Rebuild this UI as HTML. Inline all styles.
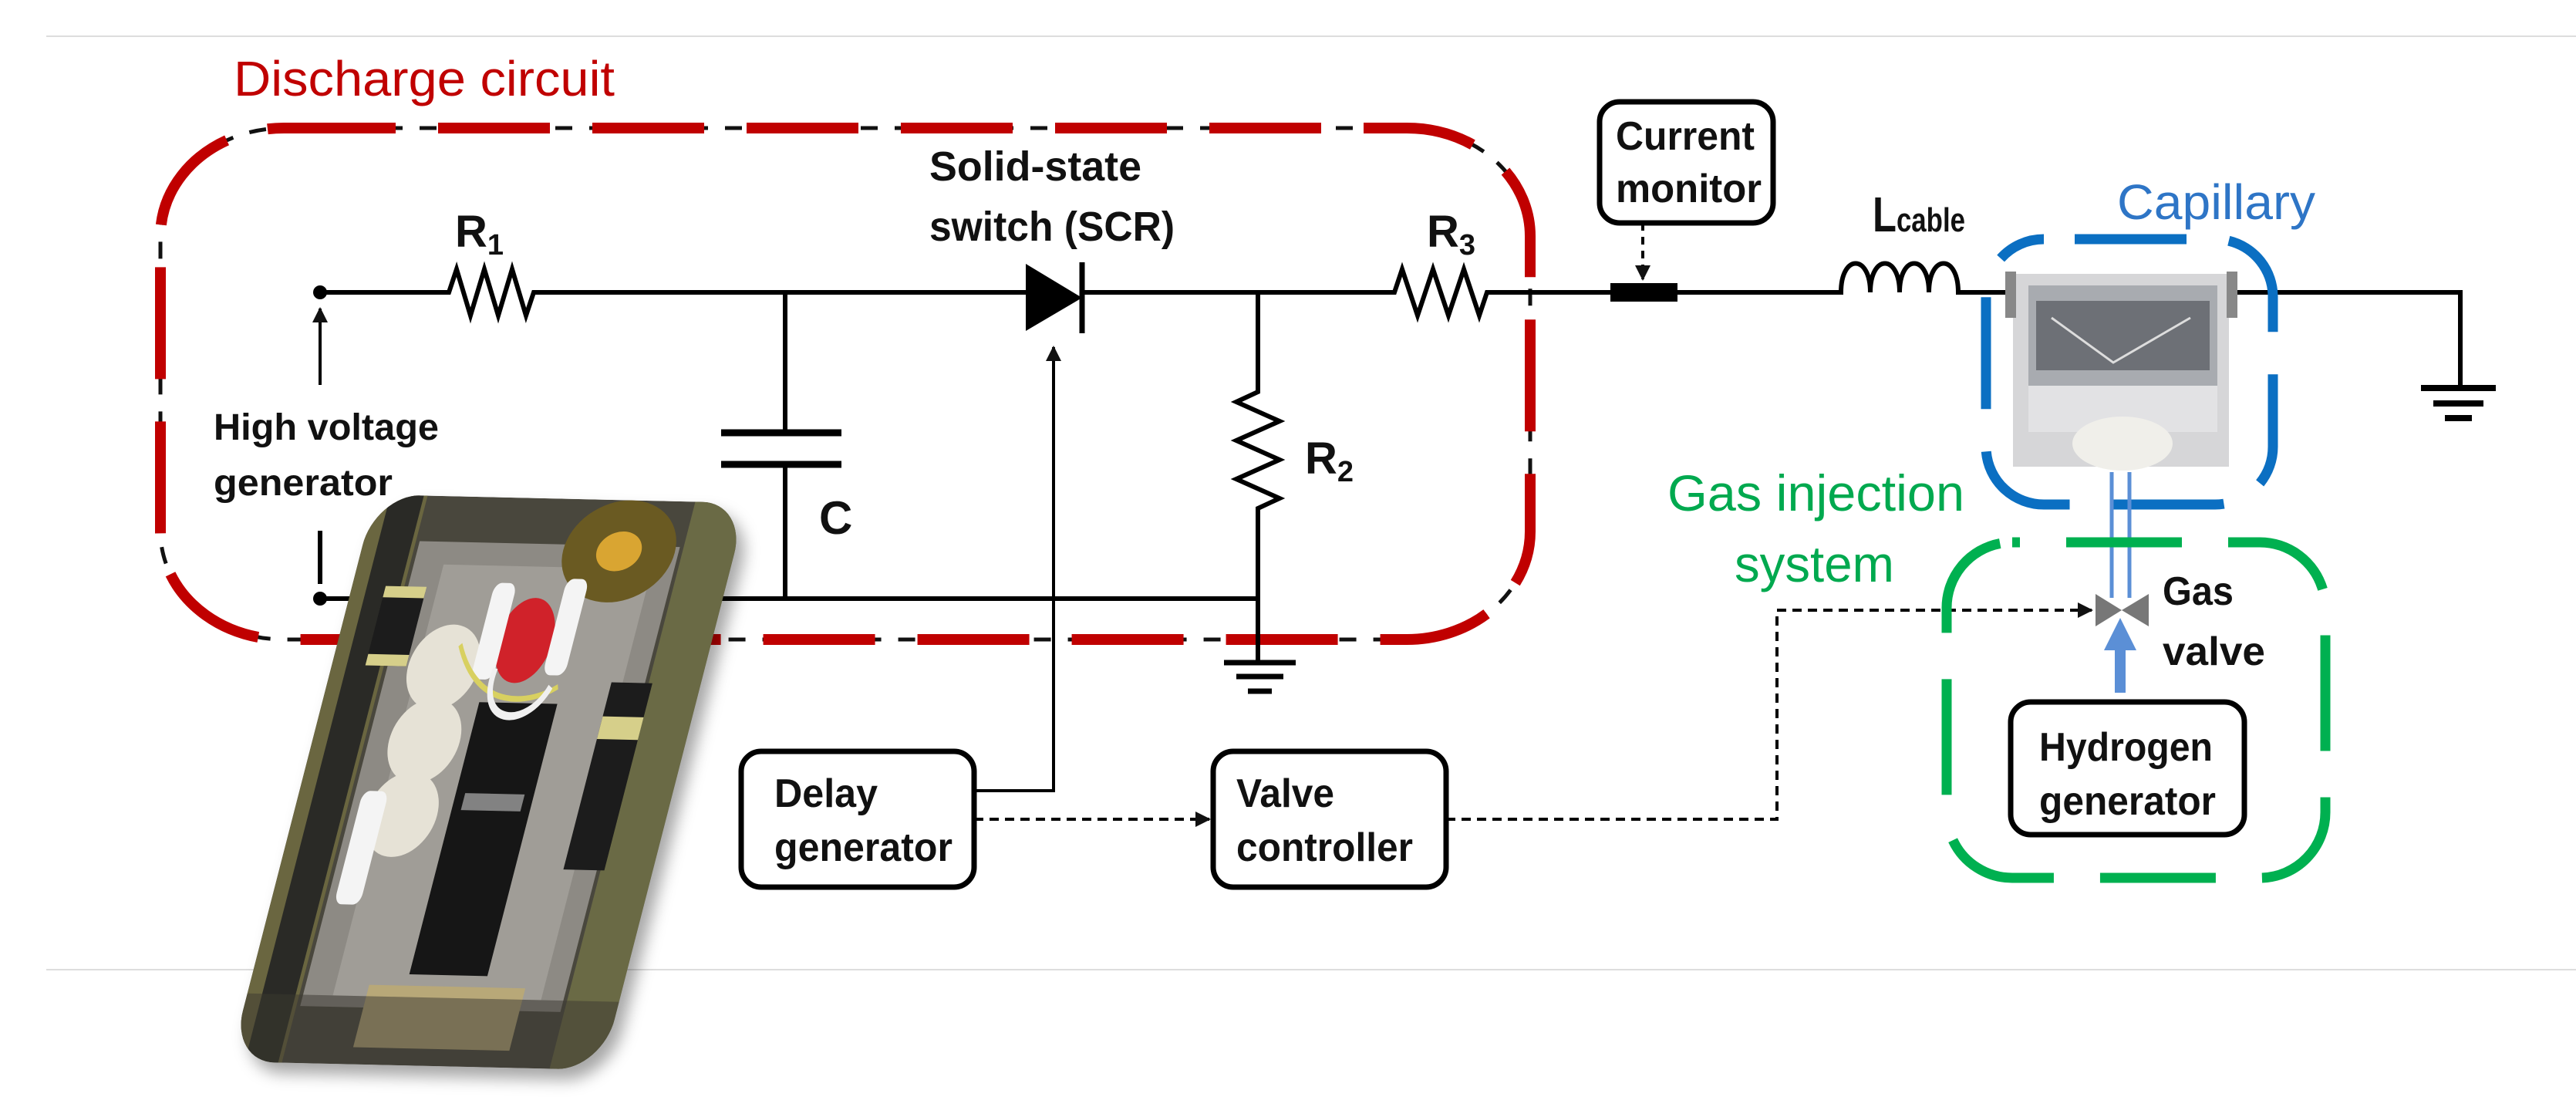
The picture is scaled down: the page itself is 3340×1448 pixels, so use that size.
<!DOCTYPE html>
<html><head><meta charset="utf-8"><style>
html,body{margin:0;padding:0;background:#fff}
svg{display:block}
text{font-family:"Liberation Sans",sans-serif}
</style></head><body>
<svg width="3340" height="1448" viewBox="0 0 3340 1448" xmlns="http://www.w3.org/2000/svg">
<defs>
<marker id="ah" viewBox="0 0 10 10" refX="9" refY="5" markerWidth="5" markerHeight="5" orient="auto"><path d="M0,0 L10,5 L0,10 z" fill="#111"/></marker>
<marker id="ahb" viewBox="0 0 10 10" refX="5" refY="5" markerWidth="3" markerHeight="3" orient="auto"><path d="M0,0 L10,5 L0,10 z" fill="#5b8fd6"/></marker>
<filter id="sh" x="-20%" y="-20%" width="140%" height="140%"><feDropShadow dx="10" dy="14" stdDeviation="10" flood-color="#000" flood-opacity="0.35"/></filter>
<clipPath id="pc"><rect x="0" y="0" width="1000" height="1000" rx="120" ry="90"/></clipPath>
</defs>

<line x1="60" y1="47" x2="3340" y2="47" stroke="#ddd" stroke-width="2"/>
<line x1="60" y1="1257" x2="3340" y2="1257" stroke="#ddd" stroke-width="2"/>

<text x="303" y="124" font-size="64" fill="#c00000" textLength="494" lengthAdjust="spacingAndGlyphs">Discharge circuit</text>

<rect x="208" y="166" width="1776" height="663" rx="160" ry="140" fill="none" stroke="#111" stroke-width="5" stroke-dasharray="22 22"/>
<rect x="208" y="166" width="1776" height="663" rx="160" ry="140" fill="none" stroke="#c00000" stroke-width="14" stroke-dasharray="145 55"/>

<g stroke="#000" stroke-width="6" fill="none">
<path d="M415,379 H582 l10,-30 l18,60 l18,-60 l18,60 l18,-60 l18,60 l10,-30 H1330"/>
<path d="M1406,379 H1808 l10,-30 l20,60 l20,-60 l20,60 l20,-60 l20,60 l10,-30 H2088"/>
<path d="M2175,379 H2387 c0,-50 38,-50 38,0 c0,-50 38,-50 38,0 c0,-50 38,-50 38,0 c0,-50 38,-50 38,0 H2600"/>
<path d="M2900,379 H3190 V503"/>
<path d="M1018,379 V561 M1018,602 V776"/>
<path d="M935,561 H1091 M935,602 H1091" stroke-width="9"/>
<path d="M1631,379 V508 l-28,13 l56,25 l-56,25 l56,25 l-56,25 l56,25 l-28,13 V859"/>
<path d="M415,776 H1631"/>
<path d="M415,688 V757"/>
<path d="M1587,859 H1680 M1603,877 H1664 M1618,896 H1649" stroke-width="7"/>
<path d="M3139,503 H3236 M3155,523 H3220 M3170,542 H3205" stroke-width="8"/>
<path d="M415,499 V400" stroke-width="4" marker-end="url(#ah)"/>
<path d="M1263,1025 H1366 V450" stroke-width="4" marker-end="url(#ah)"/>
</g>
<circle cx="415" cy="379" r="9" fill="#000"/>
<circle cx="415" cy="776" r="9" fill="#000"/>
<polygon points="1330,342 1330,429 1403,386" fill="#000"/>
<line x1="1403" y1="340" x2="1403" y2="432" stroke="#000" stroke-width="7"/>
<rect x="2088" y="367" width="87" height="24" fill="#000"/>
<line x1="2130" y1="289" x2="2130" y2="362" stroke="#000" stroke-width="4" stroke-dasharray="10 8" marker-end="url(#ah)"/>

<g stroke="#000" stroke-width="4" fill="none" stroke-dasharray="12 8">
<path d="M1263,1062 H1568" marker-end="url(#ah)"/>
<path d="M1875,1062 H2304 V791 H2712" marker-end="url(#ah)"/>
</g>

<g font-weight="bold" fill="#111" lengthAdjust="spacingAndGlyphs">
<text x="590" y="320" font-size="58">R<tspan font-size="38" dy="10">1</tspan></text>
<text x="1850" y="320" font-size="58">R<tspan font-size="38" dy="10">3</tspan></text>
<text x="1692" y="614" font-size="58">R<tspan font-size="38" dy="10">2</tspan></text>
<text x="1062" y="692" font-size="60">C</text>
<text x="1205" y="234" font-size="54" textLength="275" lengthAdjust="spacingAndGlyphs">Solid-state</text>
<text x="1205" y="312" font-size="54" textLength="318" lengthAdjust="spacingAndGlyphs">switch (SCR)</text>
<text x="277" y="570" font-size="48" textLength="292" lengthAdjust="spacingAndGlyphs">High voltage</text>
<text x="277" y="642" font-size="48" textLength="232" lengthAdjust="spacingAndGlyphs">generator</text>
<text x="2428" y="300" font-size="64" textLength="120" lengthAdjust="spacingAndGlyphs">L<tspan font-size="44">cable</tspan></text>
<text x="2804" y="784" font-size="52" textLength="92" lengthAdjust="spacingAndGlyphs">Gas</text>
<text x="2804" y="862" font-size="52" textLength="133" lengthAdjust="spacingAndGlyphs">valve</text>
</g>

<g fill="#fff" stroke="#000" stroke-width="7">
<rect x="961" y="974" width="302" height="176" rx="26"/>
<rect x="1573" y="974" width="302" height="176" rx="26"/>
<rect x="2074" y="132" width="225" height="157" rx="26"/>
<rect x="2607" y="910" width="303" height="172" rx="26"/>
</g>
<g font-weight="bold" fill="#111" font-size="52">
<text x="1004" y="1046" textLength="134" lengthAdjust="spacingAndGlyphs">Delay</text>
<text x="1004" y="1116" textLength="231" lengthAdjust="spacingAndGlyphs">generator</text>
<text x="1603" y="1046" textLength="127" lengthAdjust="spacingAndGlyphs">Valve</text>
<text x="1603" y="1116" textLength="229" lengthAdjust="spacingAndGlyphs">controller</text>
<text x="2095" y="194" textLength="180" lengthAdjust="spacingAndGlyphs">Current</text>
<text x="2095" y="262" textLength="189" lengthAdjust="spacingAndGlyphs">monitor</text>
<text x="2644" y="986" textLength="225" lengthAdjust="spacingAndGlyphs">Hydrogen</text>
<text x="2644" y="1056" textLength="229" lengthAdjust="spacingAndGlyphs">generator</text>
</g>

<text x="2745" y="284" font-size="64" fill="#2e75c6" textLength="257" lengthAdjust="spacingAndGlyphs">Capillary</text>
<g>
<rect x="2610" y="355" width="280" height="250" fill="#d6d6d8"/>
<rect x="2630" y="370" width="245" height="130" fill="#a8abb0"/>
<rect x="2640" y="390" width="225" height="90" fill="#6d7076"/>
<path d="M2660,412 L2740,470 L2840,412" stroke="#ddd" stroke-width="3" fill="none"/>
<rect x="2630" y="500" width="245" height="60" fill="#e2e2e4"/>
<ellipse cx="2752" cy="575" rx="65" ry="35" fill="#f0efea"/>
<rect x="2600" y="352" width="14" height="60" fill="#888"/>
<rect x="2887" y="352" width="14" height="60" fill="#888"/>
</g>
<rect x="2575" y="310" width="372" height="344" rx="75" fill="none" stroke="#0b6fc2" stroke-width="13" stroke-dasharray="145 55" stroke-dashoffset="-40"/>
<line x1="2738" y1="612" x2="2738" y2="775" stroke="#5b8fd6" stroke-width="5"/>
<line x1="2761" y1="612" x2="2761" y2="775" stroke="#5b8fd6" stroke-width="5"/>
<polygon points="2717,770 2717,812 2751,791" fill="#777"/>
<polygon points="2786,770 2786,812 2751,791" fill="#777"/>
<line x1="2749" y1="898" x2="2749" y2="822" stroke="#5b8fd6" stroke-width="14" marker-end="url(#ahb)"/>

<text x="2162" y="662" font-size="66" fill="#00a94f" textLength="385" lengthAdjust="spacingAndGlyphs">Gas injection</text>
<text x="2249" y="754" font-size="66" fill="#00a94f" textLength="207" lengthAdjust="spacingAndGlyphs">system</text>
<rect x="2524" y="703" width="491" height="435" rx="85" fill="none" stroke="#00b050" stroke-width="13" stroke-dasharray="150 60" stroke-dashoffset="-70"/>

<g filter="url(#sh)">
<g transform="matrix(0.482,0.011,-0.189,0.735,487,641)">
<g clip-path="url(#pc)">
<rect width="1000" height="1000" fill="#4a463e"/>
<rect x="0" y="0" width="140" height="1000" fill="#6a6640"/>
<rect x="40" y="0" width="90" height="1000" fill="#2a2a26"/>
<rect x="860" y="0" width="140" height="1000" fill="#6a6a45"/>
<rect x="150" y="80" width="700" height="820" fill="#8d8a84"/>
<rect x="230" y="120" width="560" height="760" fill="#a09d97"/>
<rect x="760" y="320" width="110" height="330" fill="#1a1a1a"/>
<rect x="760" y="380" width="110" height="40" fill="#d6cf8a"/>
<rect x="90" y="170" width="110" height="130" fill="#1a1a1a"/>
<rect x="90" y="160" width="110" height="20" fill="#d6cf8a"/>
<rect x="90" y="280" width="110" height="20" fill="#d6cf8a"/>
<ellipse cx="300" cy="300" rx="95" ry="75" fill="#e6e2d6"/>
<ellipse cx="300" cy="430" rx="95" ry="75" fill="#e6e2d6"/>
<ellipse cx="290" cy="560" rx="95" ry="75" fill="#e6e2d6"/>
<rect x="420" y="360" width="210" height="480" fill="#151515"/>
<rect x="445" y="520" width="160" height="30" fill="#ccc" opacity="0.6"/>
<circle cx="500" cy="250" r="75" fill="#d0202a"/>
<ellipse cx="690" cy="90" rx="150" ry="90" fill="#6b5a22"/>
<ellipse cx="690" cy="90" rx="60" ry="35" fill="#d9a530"/>
<rect x="380" y="150" width="60" height="170" rx="20" fill="#f4f4f4"/>
<rect x="570" y="140" width="60" height="170" rx="20" fill="#f4f4f4"/>
<rect x="170" y="520" width="70" height="200" rx="20" fill="#f4f4f4"/>
<path d="M330,260 C420,380 560,360 620,330" stroke="#d8d060" stroke-width="10" fill="none"/>
<path d="M440,300 C420,400 560,410 600,330" stroke="#f0f0f0" stroke-width="14" fill="none"/>
<rect x="320" y="860" width="420" height="110" fill="#b8a878"/>
<rect x="0" y="880" width="1000" height="120" fill="#3a3830" opacity="0.5"/>
</g>
</g>
</g>
</svg>
</body></html>
